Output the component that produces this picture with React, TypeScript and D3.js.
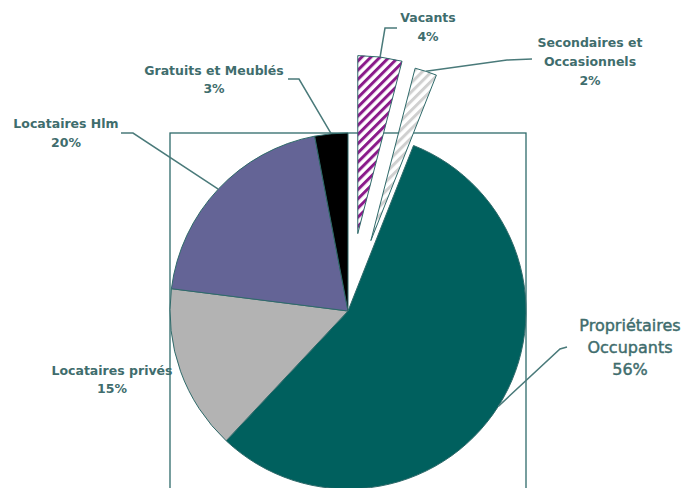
import { useEffect, useRef } from 'react';
import * as d3 from 'd3';

// order: clockwise from 12 o'clock
const categories = [
  'Vacants',
  'Secondaires et Occasionnels',
  'Propriétaires Occupants',
  'Locataires privés',
  'Locataires Hlm',
  'Gratuits et Meublés',
];
const shares = [4, 2, 56, 15, 20, 3];
const labelLines = [
  ['Vacants'],
  ['Secondaires et', 'Occasionnels'],
  ['Propriétaires', 'Occupants'],
  ['Locataires privés'],
  ['Locataires Hlm'],
  ['Gratuits et Meublés'],
];

const W = 682;
const H = 488;
const cx = 348;
const cy = 311;
const R = 178;
const textColor = '#3f6d6d';
const edgeColor = '#2f6a6a';

// fill per slice ("url(#...)" for hatched ones)
const fills = ['url(#hatchPurple)', 'url(#hatchGrey)', '#00605e', '#b3b3b3', '#646496', '#000000'];
const explode = [78, 74, 0, 0, 0, 0];

// label placement: anchor x, first baseline, line height, font size, weight, extra stroke
const labelLayout = [
  { x: 428, y: 22, lh: 19, fs: 12.5, fw: 'bold', sw: 0 },
  { x: 590, y: 47, lh: 19, fs: 12.5, fw: 'bold', sw: 0 },
  { x: 630, y: 331, lh: 22, fs: 16, fw: 'normal', sw: 0.45 },
  { x: 112, y: 375, lh: 18, fs: 12.5, fw: 'bold', sw: 0 },
  { x: 66, y: 128, lh: 19, fs: 12.5, fw: 'bold', sw: 0 },
  { x: 214, y: 75, lh: 18, fs: 12.5, fw: 'bold', sw: 0 },
];
// leader lines: start + elbow, they end on the middle of the slice's arc
const leaders: ([number, number][] | null)[] = [
  [[397, 28], [385, 28]],
  [[532, 59], [507, 60]],
  [[567, 347], [560, 349]],
  null,
  [[121, 133], [133, 133]],
  [[288, 79], [299, 79]],
];

export default function App() {
  const ref = useRef<SVGSVGElement | null>(null);

  useEffect(() => {
    if (!ref.current) return;
    const svg = d3.select(ref.current);
    svg.selectAll('*').remove();

    const defs = svg.append('defs');
    const hatch = (id: string, color: string) => {
      const p = defs.append('pattern')
        .attr('id', id)
        .attr('patternUnits', 'userSpaceOnUse')
        .attr('width', 6.5)
        .attr('height', 6.5)
        .attr('patternTransform', 'rotate(45)');
      p.append('rect').attr('width', 6.5).attr('height', 6.5).attr('fill', '#fff');
      p.append('rect').attr('width', 3).attr('height', 6.5).attr('fill', color);
    };
    hatch('hatchPurple', '#8a1a8a');
    hatch('hatchGrey', '#d0d0d0');

    svg.append('rect').attr('width', W).attr('height', H).attr('fill', '#fff');

    // bounding square of the pie
    svg.append('rect')
      .attr('x', cx - R)
      .attr('y', cy - R)
      .attr('width', 2 * R)
      .attr('height', 2 * R)
      .attr('fill', 'none')
      .attr('stroke', edgeColor)
      .attr('stroke-width', 1.3);

    const pie = d3.pie<number>().sort(null).value(d => d);
    const arcs = pie(shares);
    const arc = d3.arc<d3.PieArcDatum<number>>().innerRadius(0).outerRadius(R);

    const offset = (d: d3.PieArcDatum<number>, i: number) => {
      const a = (d.startAngle + d.endAngle) / 2;
      return [Math.sin(a) * explode[i], -Math.cos(a) * explode[i]];
    };

    const g = svg.append('g').attr('transform', `translate(${cx},${cy})`);
    g.selectAll('path')
      .data(arcs)
      .enter()
      .append('path')
      .attr('transform', (d, i) => {
        const [dx, dy] = offset(d, i);
        return `translate(${dx},${dy})`;
      })
      .attr('d', arc)
      .attr('fill', (d, i) => fills[i])
      .attr('stroke', edgeColor)
      .attr('stroke-width', 1);

    // leader lines
    arcs.forEach((d, i) => {
      const pts = leaders[i];
      if (!pts) return;
      const a = (d.startAngle + d.endAngle) / 2;
      const [dx, dy] = offset(d, i);
      const end: [number, number] = [cx + dx + Math.sin(a) * R, cy + dy - Math.cos(a) * R];
      svg.append('path')
        .attr('d', d3.line()([...pts, end]))
        .attr('fill', 'none')
        .attr('stroke', '#4a7a7a')
        .attr('stroke-width', 1.5);
    });

    // labels
    arcs.forEach((d, i) => {
      const L = labelLayout[i];
      const lines = [...labelLines[i], `${shares[i]}%`];
      const t = svg.append('text')
        .attr('text-anchor', 'middle')
        .attr('font-family', '"DejaVu Sans", sans-serif')
        .attr('font-size', L.fs)
        .attr('font-weight', L.fw)
        .attr('fill', textColor)
        .attr('stroke', L.sw ? textColor : 'none')
        .attr('stroke-width', L.sw);
      lines.forEach((s, k) => {
        t.append('tspan').attr('x', L.x).attr('y', L.y + k * L.lh).text(s);
      });
    });
  }, []);

  return (
    <svg
      ref={ref}
      width={W}
      height={H}
      style={{ position: 'absolute', left: 0, top: 0, display: 'block' }}
    />
  );
}
